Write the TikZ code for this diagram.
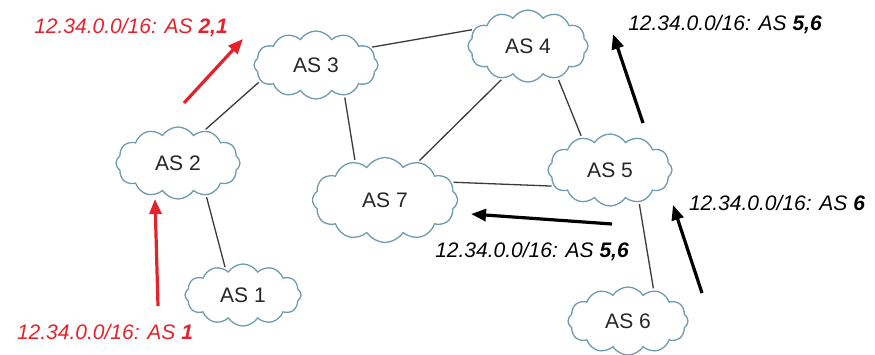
\documentclass[tikz,border=0pt]{standalone}
\usepackage{fontspec}
\setmainfont{Liberation Sans}
\usetikzlibrary{shapes.symbols,arrows.meta}

\definecolor{cloudline}{HTML}{6F9BB0}
\definecolor{linkgray}{HTML}{3A3A3A}
\definecolor{routered}{HTML}{E3222B}

\tikzset{
  asnode/.style={cloud, cloud puffs=12, cloud puff arc=115, cloud ignores aspect,
    draw=cloudline, line width=1.3pt, fill=white, inner sep=0pt,
    font=\fontsize{21}{24}\selectfont, text=black!85},
  link/.style={draw=linkgray, line width=1.3pt, shorten <=2pt, shorten >=2pt},
  route/.style={line width=3.2pt, -{Triangle[length=15pt,width=12pt]}},
  redroute/.style={route, draw=routered},
  blackroute/.style={route, draw=black},
  annot/.style={font=\fontsize{21}{24}\selectfont\itshape, inner sep=0pt},
}

\begin{document}
\begin{tikzpicture}[x=1pt,y=-1pt]
\useasboundingbox (0,0) rectangle (875,354);

% autonomous systems
\node[asnode, minimum width=124pt, minimum height=68pt] (as3) at (316,65) {AS 3};
\node[asnode, minimum width=120pt, minimum height=72pt] (as4) at (528,46) {AS 4};
\node[asnode, minimum width=124pt, minimum height=72pt] (as2) at (178,163) {AS 2};
\node[asnode, minimum width=145pt, minimum height=85pt] (as7) at (385,200) {AS 7};
\node[asnode, minimum width=124pt, minimum height=72pt] (as5) at (610,170) {AS 5};
\node[asnode, minimum width=120pt, minimum height=68pt] (as6) at (628,321) {AS 6};
\node[asnode, minimum width=116pt, minimum height=62pt] (as1) at (243,295) {AS 1};

% peering links
\draw[link] (as3.18)  -- (as4.163);
\draw[link] (as2.51)  -- (as3.196);
\draw[link] (as3.313) -- (as7.128);
\draw[link] (as4.232) -- (as7.49);
\draw[link] (as4.313) -- (as5.131);
\draw[link] (as7.15)  -- (as5.196);
\draw[link] (as5.312) -- (as6.50);
\draw[link] (as2.311) -- (as1.124);

% route advertisements
\coordinate (r1s) at (158,306);  \coordinate (r1e) at (155,199);
\coordinate (r2s) at (184,103);  \coordinate (r2e) at (243,39);
\coordinate (b1s) at (643,123);  \coordinate (b1e) at (613,34);
\coordinate (b2s) at (702,293);  \coordinate (b2e) at (673,205);
\coordinate (b3s) at (612,224);  \coordinate (b3e) at (471,214);

\draw[redroute]   (r1s) -- (r1e);
\draw[redroute]   (r2s) -- (r2e);
\draw[blackroute] (b1s) -- (b1e);
\draw[blackroute] (b2s) -- (b2e);
\draw[blackroute] (b3s) -- (b3e);

\node[annot, text=routered] (l1) at (105,332) {12.34.0.0/16: AS \textbf{1}};
\node[annot, text=routered] (l2) at (131,28)  {12.34.0.0/16: AS \textbf{2,1}};
\node[annot] (l3) at (725,25)  {12.34.0.0/16: AS \textbf{5,6}};
\node[annot] (l4) at (777,203) {12.34.0.0/16: AS \textbf{6}};
\node[annot] (l5) at (532,252) {12.34.0.0/16: AS \textbf{5,6}};
\end{tikzpicture}
\end{document}
